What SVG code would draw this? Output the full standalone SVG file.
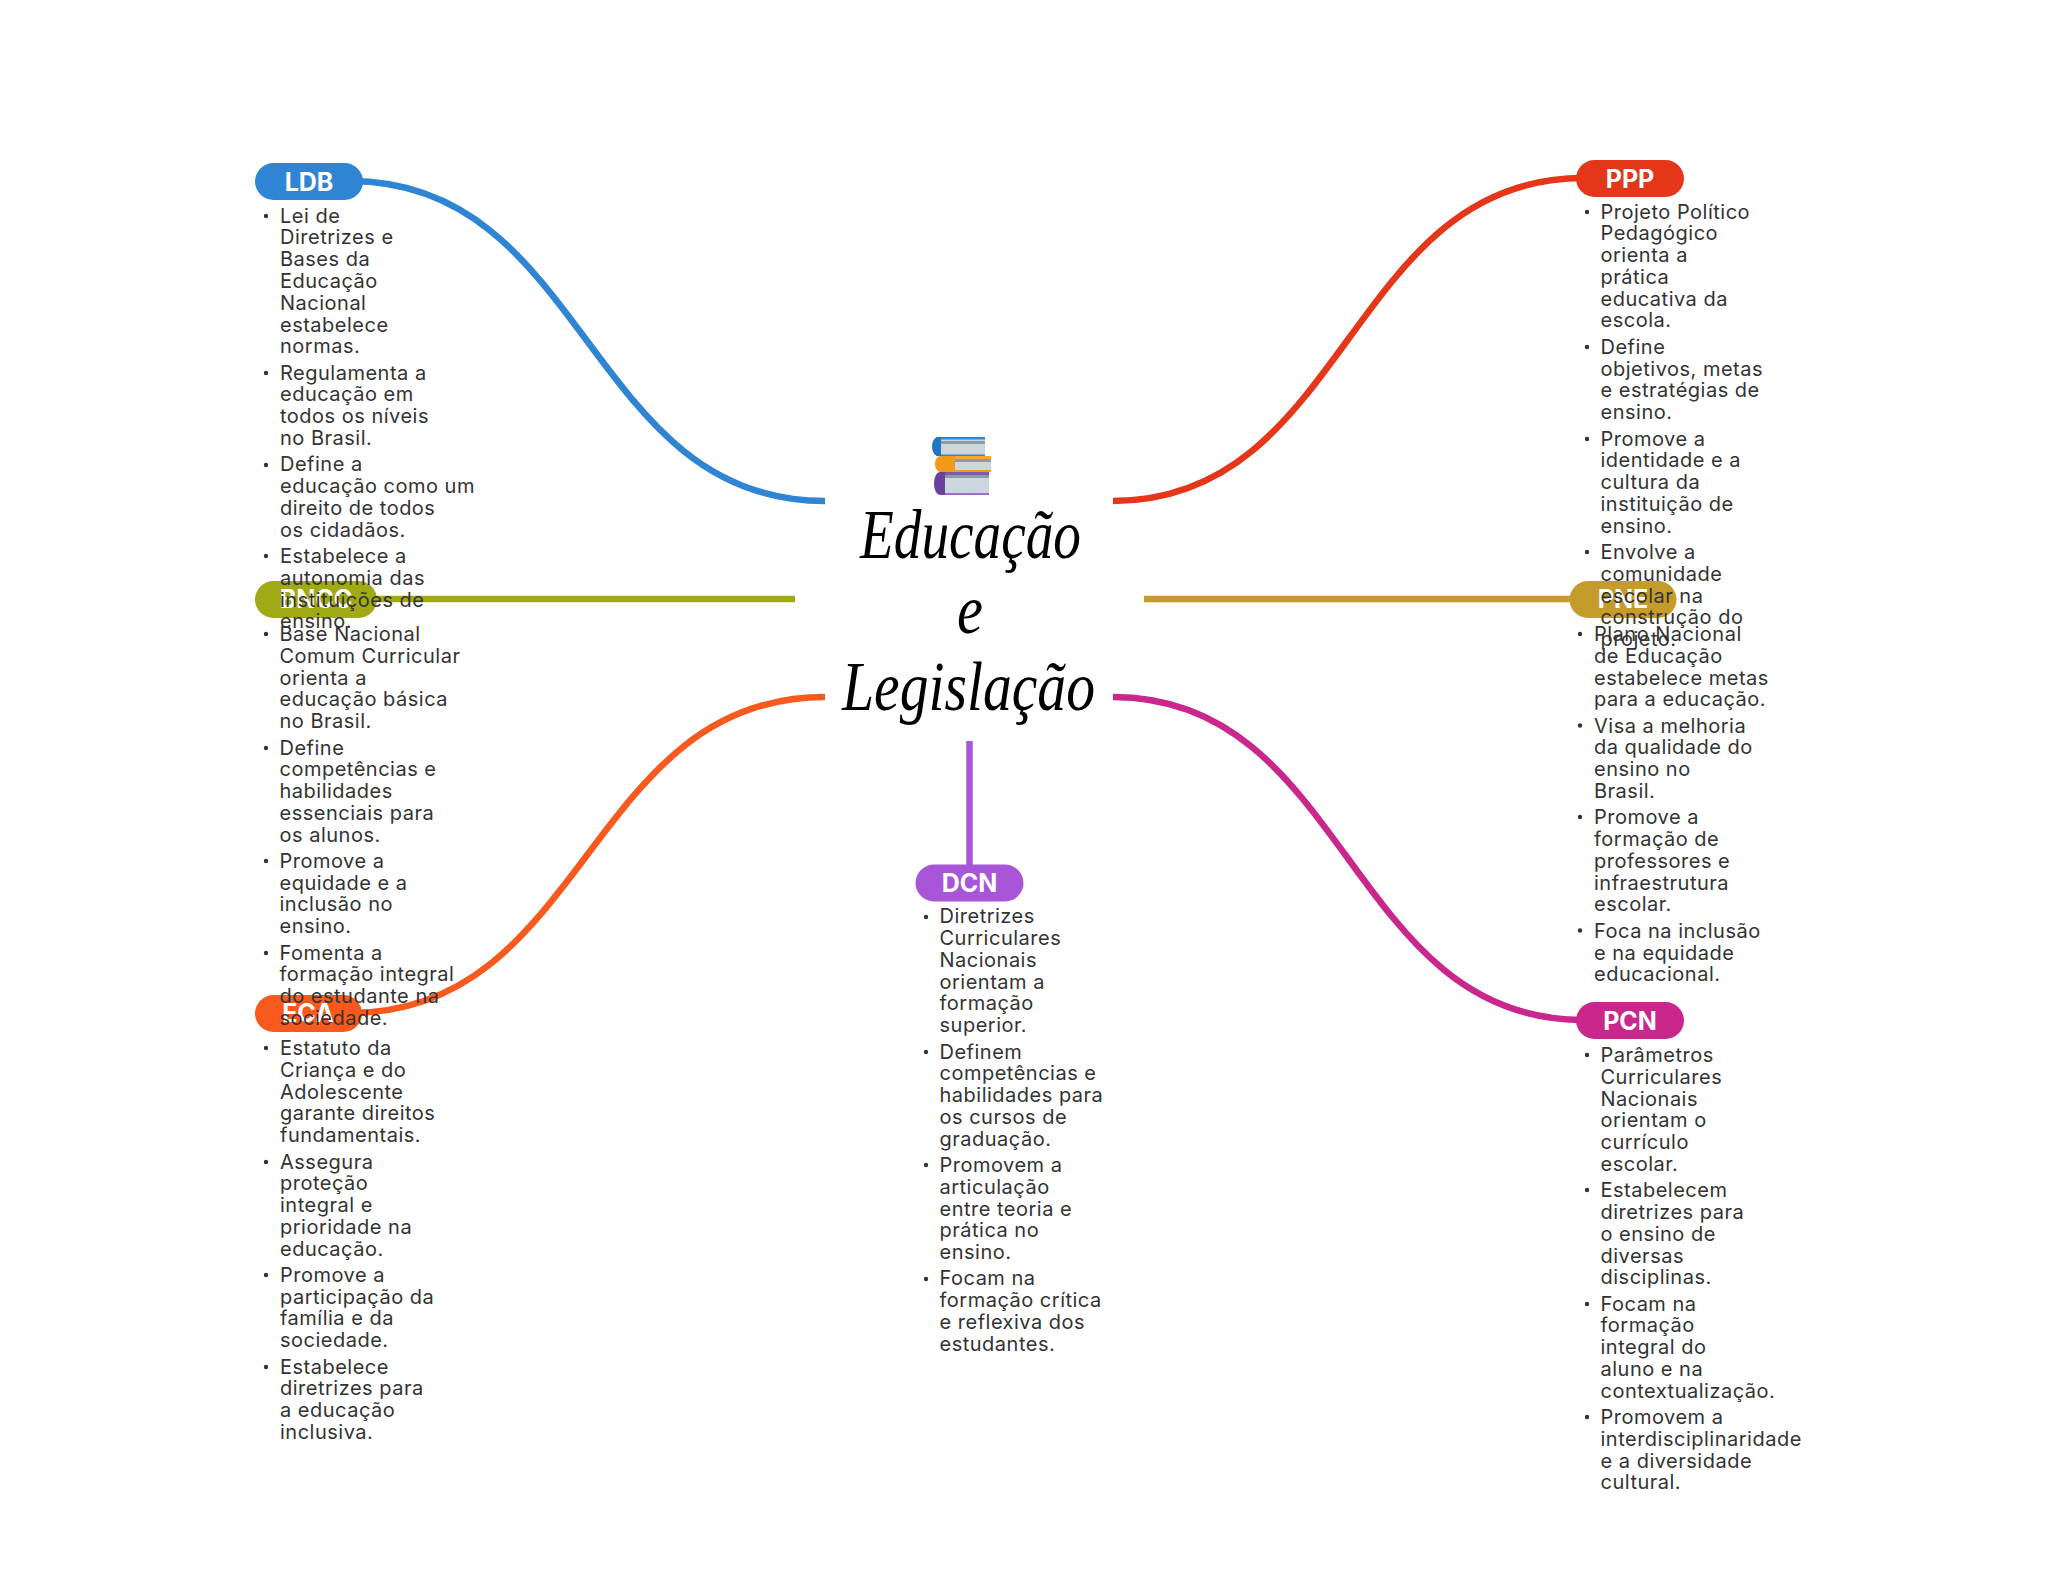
<svg xmlns="http://www.w3.org/2000/svg" width="2048" height="1569" viewBox="0 0 2048 1569">
<style>
.t{font-family:"Inter","Liberation Sans",sans-serif;font-size:20px;letter-spacing:.5px;fill:#333}
.b{fill:#333}
.p{font-family:"Inter","Liberation Sans",sans-serif;font-size:25px;font-weight:700;fill:#fff;text-anchor:middle}
.c{fill:none;stroke-width:6.5}
.h{font-family:"Liberation Serif",serif;font-style:italic;font-size:70px;fill:#000}
</style>
<defs><filter id="soft" x="-5%" y="-5%" width="110%" height="110%"><feGaussianBlur stdDeviation="0.6"/></filter></defs>
<rect width="2048" height="1569" fill="#fff"/>
<g id="connectors">
<path class="c" stroke="#2f85d4" d="M350 181C587 181 587 501 825 501"/>
<path class="c" stroke="#e6361a" d="M1113 501C1348 501 1348 178 1583 178"/>
<path class="c" stroke="#a0aa15" d="M370 599H795"/>
<path class="c" stroke="#c59c2b" d="M1144 599H1575"/>
<path class="c" stroke="#f85a1d" d="M825 697C587 697 587 1013 350 1013"/>
<path class="c" stroke="#c9278c" d="M1113 697C1348 697 1348 1020 1583 1020"/>
<path class="c" stroke="#a855d8" d="M969.5 741V866"/>
</g>
<g id="center">
<g filter="url(#soft)">
<rect x="936" y="438" width="49" height="18" fill="#ccd6dc"/><rect x="936" y="441" width="49" height="3" fill="#8c9ca6"/><rect x="936" y="437" width="49" height="2.5" fill="#2f88d6"/><rect x="936" y="454.5" width="49" height="1.5" fill="#2f88d6"/><path d="M941 437H938a6 9.500 0 0 0 0 19h3z" fill="#2076c4"/>
<rect x="940" y="456" width="51" height="16" fill="#ccd6dc"/><rect x="955" y="459" width="36" height="3" fill="#8c9ca6"/><rect x="940" y="456" width="51" height="3" fill="#f8a72b"/><rect x="940" y="470" width="51" height="2" fill="#f59a17"/><path d="M955 456H941a6 8 0 0 0 0 16h14z" fill="#f59a17"/>
<rect x="940" y="472" width="49" height="23" fill="#ccd6dc"/><rect x="945" y="475" width="44" height="3" fill="#8c9ca6"/><rect x="940" y="472" width="49" height="3" fill="#7d5ab0"/><rect x="940" y="493" width="49" height="2" fill="#9b6dd0"/><path d="M945 472H940a6 11.500 0 0 0 0 23h5z" fill="#6a3fa0"/>
</g>
<text class="h" x="860" y="558" textLength="221" lengthAdjust="spacingAndGlyphs">Educação</text>
<text class="h" x="957" y="633" textLength="26" lengthAdjust="spacingAndGlyphs">e</text>
<text class="h" x="842" y="710" textLength="253" lengthAdjust="spacingAndGlyphs">Legislação</text>
</g>
<g id="node-eca">
<rect x="255" y="995" width="107" height="37" rx="18.5" fill="#f85a1d"/><text class="p" x="308" y="1022">ECA</text>
<circle class="b" cx="266" cy="1048" r="2.2"/><text class="t" y="1055"><tspan x="280">Estatuto da</tspan><tspan x="280" dy="21.77">Criança e do</tspan><tspan x="280" dy="21.77">Adolescente</tspan><tspan x="280" dy="21.77">garante direitos</tspan><tspan x="280" dy="21.77">fundamentais.</tspan></text>
<circle class="b" cx="266" cy="1162" r="2.2"/><text class="t" y="1168.5"><tspan x="280">Assegura</tspan><tspan x="280" dy="21.77">proteção</tspan><tspan x="280" dy="21.77">integral e</tspan><tspan x="280" dy="21.77">prioridade na</tspan><tspan x="280" dy="21.77">educação.</tspan></text>
<circle class="b" cx="266" cy="1275" r="2.2"/><text class="t" y="1281.9"><tspan x="280">Promove a</tspan><tspan x="280" dy="21.77">participação da</tspan><tspan x="280" dy="21.77">família e da</tspan><tspan x="280" dy="21.77">sociedade.</tspan></text>
<circle class="b" cx="266" cy="1367" r="2.2"/><text class="t" y="1373.6"><tspan x="280">Estabelece</tspan><tspan x="280" dy="21.77">diretrizes para</tspan><tspan x="280" dy="21.77">a educação</tspan><tspan x="280" dy="21.77">inclusiva.</tspan></text>
</g>
<g id="node-bncc">
<rect x="255" y="581" width="122" height="37" rx="18.5" fill="#a0aa15"/><text class="p" x="316" y="608">BNCC</text>
<circle class="b" cx="266" cy="634" r="2.2"/><text class="t" y="641"><tspan x="279.500">Base Nacional</tspan><tspan x="279.500" dy="21.77">Comum Curricular</tspan><tspan x="279.500" dy="21.77">orienta a</tspan><tspan x="279.500" dy="21.77">educação básica</tspan><tspan x="279.500" dy="21.77">no Brasil.</tspan></text>
<circle class="b" cx="266" cy="748" r="2.2"/><text class="t" y="754.5"><tspan x="279.500">Define</tspan><tspan x="279.500" dy="21.77">competências e</tspan><tspan x="279.500" dy="21.77">habilidades</tspan><tspan x="279.500" dy="21.77">essenciais para</tspan><tspan x="279.500" dy="21.77">os alunos.</tspan></text>
<circle class="b" cx="266" cy="861" r="2.2"/><text class="t" y="867.9"><tspan x="279.500">Promove a</tspan><tspan x="279.500" dy="21.77">equidade e a</tspan><tspan x="279.500" dy="21.77">inclusão no</tspan><tspan x="279.500" dy="21.77">ensino.</tspan></text>
<circle class="b" cx="266" cy="953" r="2.2"/><text class="t" y="959.6"><tspan x="279.500">Fomenta a</tspan><tspan x="279.500" dy="21.77">formação integral</tspan><tspan x="279.500" dy="21.77">do estudante na</tspan><tspan x="279.500" dy="21.77">sociedade.</tspan></text>
</g>
<g id="node-ldb">
<rect x="255" y="163" width="108" height="37" rx="18.5" fill="#2f85d4"/><text class="p" x="309" y="190.500">LDB</text>
<circle class="b" cx="266" cy="216" r="2.2"/><text class="t" y="222.7"><tspan x="280">Lei de</tspan><tspan x="280" dy="21.77">Diretrizes e</tspan><tspan x="280" dy="21.77">Bases da</tspan><tspan x="280" dy="21.77">Educação</tspan><tspan x="280" dy="21.77">Nacional</tspan><tspan x="280" dy="21.77">estabelece</tspan><tspan x="280" dy="21.77">normas.</tspan></text>
<circle class="b" cx="266" cy="373" r="2.2"/><text class="t" y="379.7"><tspan x="280">Regulamenta a</tspan><tspan x="280" dy="21.77">educação em</tspan><tspan x="280" dy="21.77">todos os níveis</tspan><tspan x="280" dy="21.77">no Brasil.</tspan></text>
<circle class="b" cx="266" cy="465" r="2.2"/><text class="t" y="471.4"><tspan x="280">Define a</tspan><tspan x="280" dy="21.77">educação como um</tspan><tspan x="280" dy="21.77">direito de todos</tspan><tspan x="280" dy="21.77">os cidadãos.</tspan></text>
<circle class="b" cx="266" cy="556" r="2.2"/><text class="t" y="563.1"><tspan x="280">Estabelece a</tspan><tspan x="280" dy="21.77">autonomia das</tspan><tspan x="280" dy="21.77">instituições de</tspan><tspan x="280" dy="21.77">ensino.</tspan></text>
</g>
<g id="node-pne">
<rect x="1569.500" y="581" width="107" height="37" rx="18.5" fill="#c59c2b"/><text class="p" x="1623" y="608">PNE</text>
<circle class="b" cx="1580" cy="634" r="2.2"/><text class="t" y="641"><tspan x="1594">Plano Nacional</tspan><tspan x="1594" dy="21.77">de Educação</tspan><tspan x="1594" dy="21.77">estabelece metas</tspan><tspan x="1594" dy="21.77">para a educação.</tspan></text>
<circle class="b" cx="1580" cy="725.500" r="2.2"/><text class="t" y="732.7"><tspan x="1594">Visa a melhoria</tspan><tspan x="1594" dy="21.77">da qualidade do</tspan><tspan x="1594" dy="21.77">ensino no</tspan><tspan x="1594" dy="21.77">Brasil.</tspan></text>
<circle class="b" cx="1580" cy="817" r="2.2"/><text class="t" y="824.4"><tspan x="1594">Promove a</tspan><tspan x="1594" dy="21.77">formação de</tspan><tspan x="1594" dy="21.77">professores e</tspan><tspan x="1594" dy="21.77">infraestrutura</tspan><tspan x="1594" dy="21.77">escolar.</tspan></text>
<circle class="b" cx="1580" cy="930.500" r="2.2"/><text class="t" y="937.8"><tspan x="1594">Foca na inclusão</tspan><tspan x="1594" dy="21.77">e na equidade</tspan><tspan x="1594" dy="21.77">educacional.</tspan></text>
</g>
<g id="node-ppp">
<rect x="1576" y="160" width="108" height="37" rx="18.5" fill="#e6361a"/><text class="p" x="1630" y="187.500">PPP</text>
<circle class="b" cx="1587" cy="212" r="2.2"/><text class="t" y="218.6"><tspan x="1600.500">Projeto Político</tspan><tspan x="1600.500" dy="21.77">Pedagógico</tspan><tspan x="1600.500" dy="21.77">orienta a</tspan><tspan x="1600.500" dy="21.77">prática</tspan><tspan x="1600.500" dy="21.77">educativa da</tspan><tspan x="1600.500" dy="21.77">escola.</tspan></text>
<circle class="b" cx="1587" cy="347" r="2.2"/><text class="t" y="353.8"><tspan x="1600.500">Define</tspan><tspan x="1600.500" dy="21.77">objetivos, metas</tspan><tspan x="1600.500" dy="21.77">e estratégias de</tspan><tspan x="1600.500" dy="21.77">ensino.</tspan></text>
<circle class="b" cx="1587" cy="439" r="2.2"/><text class="t" y="445.5"><tspan x="1600.500">Promove a</tspan><tspan x="1600.500" dy="21.77">identidade e a</tspan><tspan x="1600.500" dy="21.77">cultura da</tspan><tspan x="1600.500" dy="21.77">instituição de</tspan><tspan x="1600.500" dy="21.77">ensino.</tspan></text>
<circle class="b" cx="1587" cy="552" r="2.2"/><text class="t" y="559"><tspan x="1600.500">Envolve a</tspan><tspan x="1600.500" dy="21.77">comunidade</tspan><tspan x="1600.500" dy="21.77">escolar na</tspan><tspan x="1600.500" dy="21.77">construção do</tspan><tspan x="1600.500" dy="21.77">projeto.</tspan></text>
</g>
<g id="node-dcn">
<rect x="915.500" y="864.500" width="108" height="37" rx="18.5" fill="#a855d8"/><text class="p" x="969.500" y="892">DCN</text>
<circle class="b" cx="926" cy="917" r="2.2"/><text class="t" y="923.3"><tspan x="939.500">Diretrizes</tspan><tspan x="939.500" dy="21.77">Curriculares</tspan><tspan x="939.500" dy="21.77">Nacionais</tspan><tspan x="939.500" dy="21.77">orientam a</tspan><tspan x="939.500" dy="21.77">formação</tspan><tspan x="939.500" dy="21.77">superior.</tspan></text>
<circle class="b" cx="926" cy="1052" r="2.2"/><text class="t" y="1058.5"><tspan x="939.500">Definem</tspan><tspan x="939.500" dy="21.77">competências e</tspan><tspan x="939.500" dy="21.77">habilidades para</tspan><tspan x="939.500" dy="21.77">os cursos de</tspan><tspan x="939.500" dy="21.77">graduação.</tspan></text>
<circle class="b" cx="926" cy="1165" r="2.2"/><text class="t" y="1172"><tspan x="939.500">Promovem a</tspan><tspan x="939.500" dy="21.77">articulação</tspan><tspan x="939.500" dy="21.77">entre teoria e</tspan><tspan x="939.500" dy="21.77">prática no</tspan><tspan x="939.500" dy="21.77">ensino.</tspan></text>
<circle class="b" cx="926" cy="1279" r="2.2"/><text class="t" y="1285.4"><tspan x="939.500">Focam na</tspan><tspan x="939.500" dy="21.77">formação crítica</tspan><tspan x="939.500" dy="21.77">e reflexiva dos</tspan><tspan x="939.500" dy="21.77">estudantes.</tspan></text>
</g>
<g id="node-pcn">
<rect x="1576" y="1002" width="108" height="37" rx="18.5" fill="#c9278c"/><text class="p" x="1630" y="1029.500">PCN</text>
<circle class="b" cx="1587" cy="1055" r="2.2"/><text class="t" y="1062"><tspan x="1600.500">Parâmetros</tspan><tspan x="1600.500" dy="21.77">Curriculares</tspan><tspan x="1600.500" dy="21.77">Nacionais</tspan><tspan x="1600.500" dy="21.77">orientam o</tspan><tspan x="1600.500" dy="21.77">currículo</tspan><tspan x="1600.500" dy="21.77">escolar.</tspan></text>
<circle class="b" cx="1587" cy="1190" r="2.2"/><text class="t" y="1197.2"><tspan x="1600.500">Estabelecem</tspan><tspan x="1600.500" dy="21.77">diretrizes para</tspan><tspan x="1600.500" dy="21.77">o ensino de</tspan><tspan x="1600.500" dy="21.77">diversas</tspan><tspan x="1600.500" dy="21.77">disciplinas.</tspan></text>
<circle class="b" cx="1587" cy="1304" r="2.2"/><text class="t" y="1310.7"><tspan x="1600.500">Focam na</tspan><tspan x="1600.500" dy="21.77">formação</tspan><tspan x="1600.500" dy="21.77">integral do</tspan><tspan x="1600.500" dy="21.77">aluno e na</tspan><tspan x="1600.500" dy="21.77">contextualização.</tspan></text>
<circle class="b" cx="1587" cy="1417" r="2.2"/><text class="t" y="1424.1"><tspan x="1600.500">Promovem a</tspan><tspan x="1600.500" dy="21.77">interdisciplinaridade</tspan><tspan x="1600.500" dy="21.77">e a diversidade</tspan><tspan x="1600.500" dy="21.77">cultural.</tspan></text>
</g>
</svg>
